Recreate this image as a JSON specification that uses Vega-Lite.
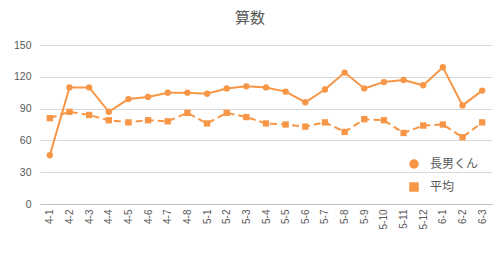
{
  "$schema": "https://vega.github.io/schema/vega-lite/v6.json",
  "autosize": {"type": "none"},
  "width": 452,
  "height": 159,
  "padding": {"left": 40, "top": 45, "right": 9, "bottom": 56},
  "background": "white",
  "title": {"text": "算数", "font": "Noto Sans CJK JP", "fontSize": 15, "fontWeight": "normal", "color": "#595959", "dx": -16, "offset": 14},
  "data": {"values": [
    {"d":"4-1","s":"長男くん","v":46},{"d":"4-2","s":"長男くん","v":110},{"d":"4-3","s":"長男くん","v":110},{"d":"4-4","s":"長男くん","v":87},
    {"d":"4-5","s":"長男くん","v":99},{"d":"4-6","s":"長男くん","v":101},{"d":"4-7","s":"長男くん","v":105},{"d":"4-8","s":"長男くん","v":105},
    {"d":"5-1","s":"長男くん","v":104},{"d":"5-2","s":"長男くん","v":109},{"d":"5-3","s":"長男くん","v":111},{"d":"5-4","s":"長男くん","v":110},
    {"d":"5-5","s":"長男くん","v":106},{"d":"5-6","s":"長男くん","v":96},{"d":"5-7","s":"長男くん","v":108},{"d":"5-8","s":"長男くん","v":124},
    {"d":"5-9","s":"長男くん","v":109},{"d":"5-10","s":"長男くん","v":115},{"d":"5-11","s":"長男くん","v":117},{"d":"5-12","s":"長男くん","v":112},
    {"d":"6-1","s":"長男くん","v":129},{"d":"6-2","s":"長男くん","v":93},{"d":"6-3","s":"長男くん","v":107},
    {"d":"4-1","s":"平均","v":81},{"d":"4-2","s":"平均","v":87},{"d":"4-3","s":"平均","v":84},{"d":"4-4","s":"平均","v":79},
    {"d":"4-5","s":"平均","v":77},{"d":"4-6","s":"平均","v":79},{"d":"4-7","s":"平均","v":78},{"d":"4-8","s":"平均","v":86},
    {"d":"5-1","s":"平均","v":76},{"d":"5-2","s":"平均","v":86},{"d":"5-3","s":"平均","v":82},{"d":"5-4","s":"平均","v":76},
    {"d":"5-5","s":"平均","v":75},{"d":"5-6","s":"平均","v":73},{"d":"5-7","s":"平均","v":77},{"d":"5-8","s":"平均","v":68},
    {"d":"5-9","s":"平均","v":80},{"d":"5-10","s":"平均","v":79},{"d":"5-11","s":"平均","v":67},{"d":"5-12","s":"平均","v":74},
    {"d":"6-1","s":"平均","v":75},{"d":"6-2","s":"平均","v":63},{"d":"6-3","s":"平均","v":77}
  ]},
  "encoding": {
    "x": {"field": "d", "type": "ordinal", "sort": null, "scale": {"type": "point", "padding": 0.5},
      "axis": {"title": null, "labelAngle": -90, "labelFont": "Liberation Sans", "labelFontSize": 10, "labelColor": "#595959", "ticks": false, "domainColor": "#BFBFBF", "domainWidth": 1, "labelPadding": 5, "grid": false}},
    "y": {"field": "v", "type": "quantitative", "scale": {"domain": [0, 150]},
      "axis": {"title": null, "values": [0, 30, 60, 90, 120, 150], "labelFont": "Liberation Sans", "labelFontSize": 10.5, "labelColor": "#595959", "ticks": false, "domain": false, "gridColor": "#D9D9D9", "gridWidth": 1, "labelPadding": 9}}
  },
  "layer": [
    {"transform": [{"filter": "datum.s === '長男くん'"}],
     "mark": {"type": "line", "color": "#F79646", "strokeWidth": 2},
     "encoding": {}},
    {"transform": [{"filter": "datum.s === '平均'"}],
     "mark": {"type": "line", "color": "#F79646", "strokeWidth": 2, "strokeDash": [7, 4]},
     "encoding": {}},
    {"mark": {"type": "point", "filled": true, "opacity": 1, "color": "#F79646", "size": 40},
     "encoding": {"shape": {"field": "s", "type": "nominal", "scale": {"domain": ["長男くん", "平均"], "range": ["circle", "square"]},
       "legend": {"title": null, "orient": "none", "legendX": 368, "legendY": 113, "symbolSize": 90, "symbolFillColor": "#F79646", "symbolStrokeWidth": 0, "symbolOpacity": 1, "labelFont": "Noto Sans CJK JP", "labelFontSize": 12, "labelColor": "#595959", "rowPadding": 11, "labelOffset": 10}}}}
  ],
  "config": {"view": {"stroke": null}}
}
